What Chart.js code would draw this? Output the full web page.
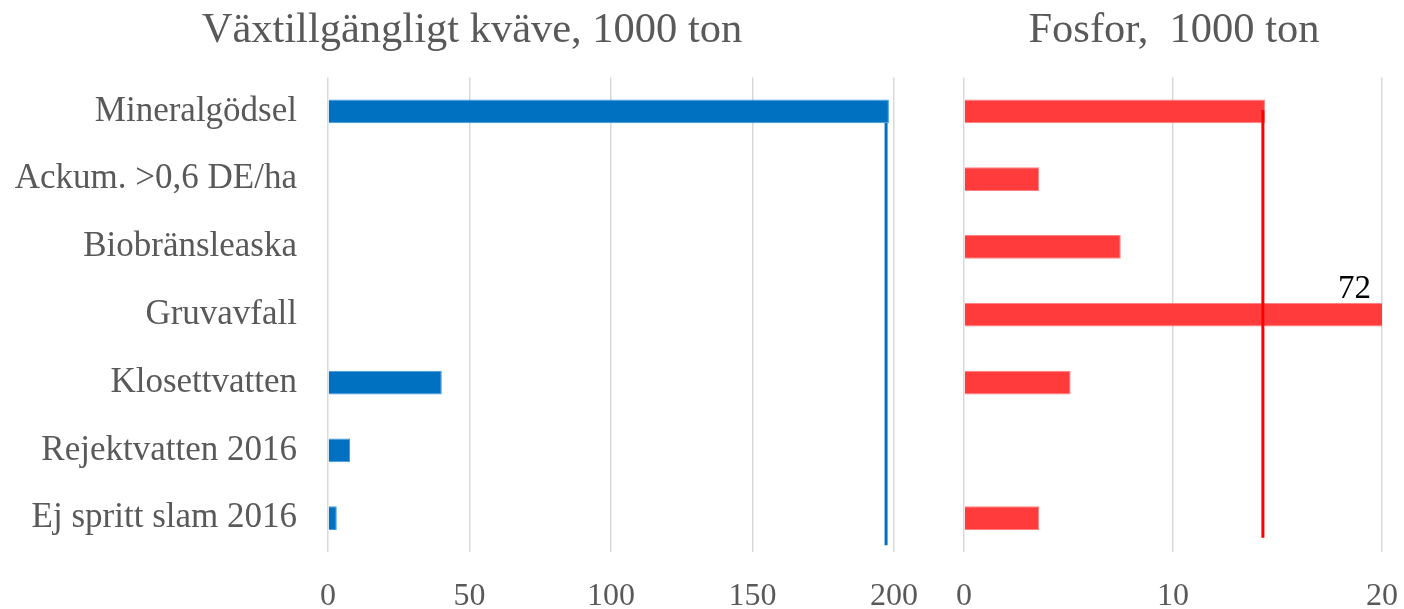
<!DOCTYPE html>
<html>
<head>
<meta charset="utf-8">
<script src="https://cdn.jsdelivr.net/npm/chart.js@4/dist/chart.umd.min.js"></script>
<style>
  html, body { margin: 0; padding: 0; background: #fff; }
  #wrap { position: relative; width: 1404px; height: 609px; }
  #kvave { position: absolute; left: 0; top: 0; }
  #fosfor { position: absolute; left: 944px; top: 0; }
</style>
</head>
<body>
<div id="wrap">
  <canvas id="kvave" width="944" height="609"></canvas>
  <canvas id="fosfor" width="460" height="609"></canvas>
</div>
<script>
// data
var categories = ['Mineralgödsel', 'Ackum. >0,6 DE/ha', 'Biobränsleaska', 'Gruvavfall', 'Klosettvatten', 'Rejektvatten 2016', 'Ej spritt slam 2016'];
var kvaveValues = [198.2, null, null, null, 40.2, 7.8, 3.1];
var fosforValues = [14.4, 3.6, 7.5, 72, 5.1, null, 3.6];
var kvaveTicks = [0, 50, 100, 150, 200];
var fosforTicks = [0, 10, 20];
var kvaveLine = 197.2;   // vertical line, nitrogen
var fosforLine = 14.3;   // vertical line, phosphorus

var serif = "'Liberation Serif', 'Times New Roman', serif";
var grey = '#595959';

// vertical reference line, drawn through the chart's own scales
var refLinePlugin = {
    id: 'refLine',
    afterDatasetsDraw: function(chart, args, opts){
        if (opts.value == null) return;
        var ctx = chart.ctx;
        var x = chart.scales.x.getPixelForValue(opts.value);
        var y1 = chart.scales.y.getPixelForValue(opts.from);
        var y2 = chart.scales.y.getPixelForValue(opts.to);
        ctx.save();
        ctx.strokeStyle = opts.color;
        ctx.lineWidth = opts.width;
        ctx.beginPath();
        ctx.moveTo(x, y1);
        ctx.lineTo(x, y2);
        ctx.stroke();
        ctx.restore();
    }
};

// value label for bars running past the axis max
var overflowLabelPlugin = {
    id: 'overflowLabel',
    afterDatasetsDraw: function(chart){
        var max = chart.scales.x.max;
        var meta = chart.getDatasetMeta(0);
        var ctx = chart.ctx;
        chart.data.datasets[0].data.forEach(function(v, i){
            if (v != null && v > max) {
                var bar = meta.data[i];
                ctx.save();
                ctx.font = '33px ' + serif;
                ctx.fillStyle = '#000';
                ctx.textAlign = 'right';
                ctx.textBaseline = 'alphabetic';
                ctx.fillText(String(v), chart.chartArea.right - 11, bar.y - bar.height / 2 - 5);
                ctx.restore();
            }
        });
    }
};

function xScale(ticks, padLeft, padRight){
    return {
        min: ticks[0],
        max: ticks[ticks.length - 1],
        afterBuildTicks: function(scale){
            scale.ticks = ticks.map(function(t){ return {value: t}; });
        },
        afterFit: function(scale){
            scale.height = 57;
            scale.paddingLeft = padLeft;
            scale.paddingRight = padRight;
        },
        border: { display: false },
        grid: { color: '#D9D9D9', lineWidth: 1.5, drawTicks: false },
        ticks: { color: grey, font: { family: serif, size: 32 }, padding: 25, maxRotation: 0 }
    };
}

function titleOpts(text){
    return {
        display: true,
        text: text,
        color: grey,
        font: { family: serif, size: 42.5, weight: 'normal' },
        padding: { top: 5, bottom: 21.5 }
    };
}

new Chart(document.getElementById('kvave'), {
    type: 'bar',
    plugins: [refLinePlugin],
    data: {
        labels: categories,
        datasets: [{
            data: kvaveValues,
            backgroundColor: '#0070C0',
            borderColor: '#3D9BE0',
            borderWidth: 1,
            barPercentage: 0.35,
            categoryPercentage: 1
        }]
    },
    options: {
        indexAxis: 'y',
        responsive: false,
        animation: false,
        layout: { padding: 0 },
        scales: {
            x: xScale(kvaveTicks, 0, 50),
            y: {
                afterFit: function(scale){ scale.width = 328; },
                border: { display: false },
                grid: { display: false },
                ticks: { color: grey, font: { family: serif, size: 35 }, padding: 23 }
            }
        },
        plugins: {
            legend: { display: false },
            tooltip: { enabled: false },
            title: titleOpts('Växtillgängligt kväve, 1000 ton'),
            refLine: { value: kvaveLine, from: 0.17, to: 6.4, color: '#0070C0', width: 3 }
        }
    }
});

new Chart(document.getElementById('fosfor'), {
    type: 'bar',
    plugins: [refLinePlugin, overflowLabelPlugin],
    data: {
        labels: categories,
        datasets: [{
            data: fosforValues,
            backgroundColor: '#FF3B3B',
            borderColor: '#FF8080',
            borderWidth: 1,
            barPercentage: 0.35,
            categoryPercentage: 1
        }]
    },
    options: {
        indexAxis: 'y',
        responsive: false,
        animation: false,
        layout: { padding: 0 },
        scales: {
            x: xScale(fosforTicks, 20, 22),
            y: { display: false }
        },
        plugins: {
            legend: { display: false },
            tooltip: { enabled: false },
            title: titleOpts('Fosfor,  1000 ton'),
            refLine: { value: fosforLine, from: -0.02, to: 6.29, color: '#FF0000', width: 3 }
        }
    }
});
</script>
</body>
</html>
